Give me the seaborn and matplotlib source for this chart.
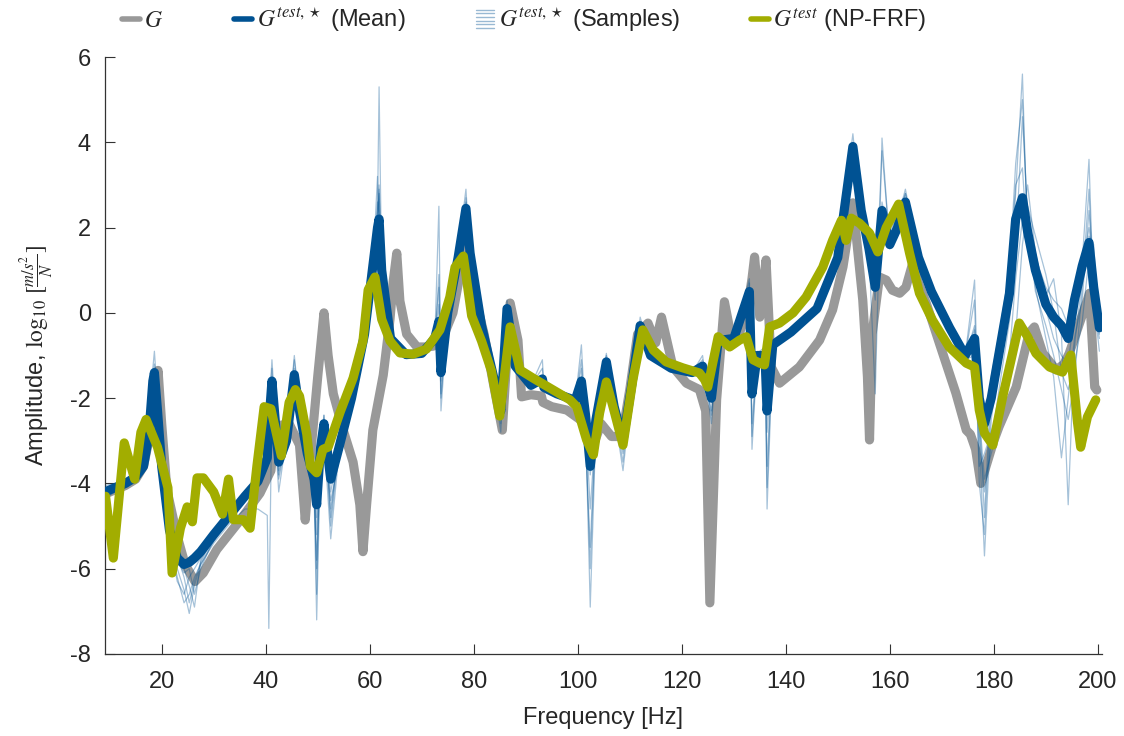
import matplotlib
matplotlib.use("Agg")
import numpy as np
import pandas as pd
import matplotlib.pyplot as plt
import seaborn as sns
from matplotlib.lines import Line2D
from matplotlib.legend_handler import HandlerBase

# ---------------- data ----------------
freq_G = [9.1, 11, 13, 15, 16.5, 17.5, 18.5, 19.3, 20, 21, 22.9, 24.5, 26.4, 28, 30.6, 35.1, 38.9, 41.0,
          41.6, 42.3, 44.5, 46.5, 47.6, 48.5, 50, 51.2, 52, 53, 54.9, 56.8, 58.1, 58.7, 59.4, 60.6, 62.6,
          63.9, 64.5, 65.2, 65.8, 67.1, 69.1, 71, 72.2, 74, 76, 77.5, 78.6, 80, 82, 84, 85.5, 87, 88.5,
          89.2, 91, 93, 93.3, 95, 97.9, 100.4, 102, 103.3, 104.5, 106.5, 108.5, 110, 111.5, 113.5, 115,
          116.1, 118.3, 120.9, 123.4, 124.6, 125.4, 126.7, 128.2, 129.5, 131, 132.5, 133.5, 134, 135,
          136.2, 137.2, 138.8, 142.6, 146.5, 149, 151, 152.9, 154.8, 155.7, 156.1, 156.6, 158, 159.3,
          160.5, 161.9, 163.1, 164.4, 165.5, 167, 169.5, 172.7, 174.7, 175.5, 176.5, 177.5, 178.5, 180,
          181, 184.3, 186.8, 187.8, 189.4, 192, 193.5, 194.5, 197.8, 198.4, 199.4, 199.8]
amp_G = [-4.25, -4.15, -4.05, -3.9, -3.6, -3.0, -2.1, -1.35, -2.6, -4.15, -5.2, -5.9, -6.3, -6.1, -5.55,
         -4.86, -4.23, -3.7, -3.0, -2.65, -2.6, -3.1, -4.86, -3.5, -1.5, 0.0, -1.0, -1.9, -2.75, -3.5,
         -4.5, -5.6, -4.5, -2.75, -1.46, -0.15, 0.72, 1.4, 0.28, -0.5, -0.8, -0.8, -0.78, -0.6, 0.0, 1.0,
         2.0, 0.5, -0.5, -1.8, -2.75, 0.23, -0.64, -1.97, -1.92, -1.95, -2.1, -2.2, -2.28, -2.5, -2.7,
         -3.0, -2.6, -2.9, -2.9, -1.8, -0.5, -0.24, -0.7, -0.1, -1.27, -1.65, -1.8, -2.3, -6.8, -2.04,
         0.26, -0.56, -0.5, 0.0, 0.8, 1.31, -0.1, 1.24, -1.27, -1.65, -1.27, -0.64, 0.07, 1.08, 2.58,
         0.3, -1.5, -2.98, -0.5, 0.84, 0.77, 0.53, 0.46, 0.6, 1.16, 0.7, 0.23, -0.7, -1.88, -2.75,
         -2.85, -3.2, -4.0, -3.6, -3.0, -2.67, -1.74, -0.47, -0.33, -0.94, -1.34, -1.2, -0.95, 0.23,
         0.46, -1.74, -1.81]

freq_mean = [9.1, 11, 13, 15, 16.5, 17.5, 18.3, 18.6, 19.2, 20, 21.5, 23, 24.3, 25.3, 26.3, 27.5, 30,
             33, 36, 38.5, 40.3, 40.6, 41.2, 42.5, 44, 45.5, 46.5, 48, 49.3, 49.8, 50.5, 51.2, 52.5, 54,
             56.5, 59, 60.5, 61.5, 61.8, 62.3, 64, 67, 70, 72.5, 73.3, 73.7, 75, 77, 78.5, 79.3, 81.5,
             84, 85.2, 86.4, 88, 91, 93.2, 93.5, 96, 99.5, 100.7, 101.5, 102.4, 103.5, 105.5, 107,
             108.7, 110.5, 112, 114, 118, 122, 124, 125.7, 127, 130, 133, 133.5, 134.5, 136, 136.4,
             137.5, 141, 146, 150, 152.9, 154.5, 156, 157.2, 158.5, 160, 161.5, 163, 165.5, 168,
             171.5, 174.5, 176.3, 177.2, 178.2, 179.5, 181, 183, 184.2, 185.5, 186.5, 188, 190, 191.5,
             193, 194.3, 195.5, 197, 198.3, 199.2, 200.3]
amp_mean = [-4.2, -4.1, -4.0, -3.85, -3.6, -2.9, -1.6, -1.4, -2.3, -3.6, -5.1, -5.75, -5.9, -5.85,
            -5.75, -5.6, -5.2, -4.75, -4.3, -3.95, -3.4, -2.6, -1.6, -3.5, -3.0, -1.45, -2.3, -3.3,
            -3.9, -4.5, -3.2, -2.6, -3.9, -3.2, -2.0, -0.5, 1.0, 2.0, 2.2, 1.0, -0.6, -0.98, -0.95,
            -0.6, -0.2, -1.4, 0.0, 1.3, 2.45, 1.4, -0.3, -1.6, -2.3, 0.1, -1.25, -1.7, -1.55, -1.75,
            -1.9, -2.05, -1.6, -2.4, -3.6, -2.5, -1.15, -2.2, -3.0, -1.6, -0.3, -1.0, -1.3, -1.4,
            -1.25, -2.0, -0.65, -0.6, 0.5, -1.9, -1.0, -1.0, -2.3, -0.75, -0.45, 0.1, 1.3, 3.9, 2.4,
            1.5, 0.6, 2.4, 1.6, 2.0, 2.6, 1.3, 0.5, -0.35, -1.0, -0.6, -2.0, -2.6, -2.0, -0.95, 0.45,
            2.2, 2.7, 1.9, 1.0, 0.2, -0.1, -0.3, -0.6, 0.3, 1.1, 1.65, 0.6, -0.35]

# posterior samples (same frequency grid as the mean)
amp_sample_1 = [-4.1, -4.05, -3.95, -3.8, -3.5, -2.7, -1.3, -0.9, -2.0, -3.5, -5.2, -6.0, -6.5, -7.05,
                -6.4, -5.9, -5.35, -4.85, -4.35, -4.0, -3.5, -2.4, -1.1, -3.7, -3.1, -1.0, -2.2, -3.4,
                -4.2, -7.2, -3.5, -2.4, -4.6, -3.3, -2.05, -0.55, 1.1, 2.4, 5.3, 0.9, -0.65, -1.0,
                -0.95, -0.55, 0.6, -2.3, 0.05, 1.4, 2.9, 1.3, -0.35, -1.7, -2.8, 0.3, -1.3, -1.7,
                -1.1, -1.8, -1.95, -2.1, -0.75, -2.6, -6.9, -2.6, -0.95, -2.3, -3.7, -1.65, -0.1,
                -1.0, -1.3, -1.4, -1.0, -2.6, -0.6, -0.6, 0.8, -3.2, -1.0, -0.9, -4.6, -0.8, -0.5,
                0.05, 1.35, 4.2, 2.3, 1.4, -1.9, 4.1, 1.5, 2.2, 2.9, 1.3, 0.5, -0.3, -1.0, 0.77,
                -3.0, -5.7, -2.5, -1.2, 0.6, 2.8, 5.6, 1.6, 0.8, 0.1, -0.6, -1.0, -1.2, 0.0, 1.2,
                3.6, 0.2, -0.6]
amp_sample_2 = [-4.3, -4.15, -4.05, -3.9, -3.7, -3.1, -1.9, -1.7, -2.6, -3.8, -5.3, -6.2, -6.8, -6.6,
                -6.2, -5.9, -5.4, -4.95, -4.6, -4.6, -4.75, -7.4, -2.0, -3.6, -3.1, -1.8, -2.5, -3.5,
                -4.0, -5.2, -3.3, -2.9, -5.3, -3.4, -2.1, -0.6, 0.8, 3.2, 2.0, 0.8, -0.7, -1.05, -1.0,
                -0.7, 2.5, -1.6, -0.1, 1.2, 2.2, 1.5, -0.3, -1.6, -2.5, 0.0, -1.2, -1.7, -1.5, -1.8,
                -1.9, -2.0, -1.3, -3.0, -5.5, -2.4, -1.2, -2.2, -3.3, -1.6, -0.3, -1.0, -1.3, -1.45,
                -1.3, -2.3, -0.7, -0.6, 0.3, -2.6, -1.0, -1.1, -3.6, -0.7, -0.45, 0.15, 1.25, 3.7,
                2.5, 1.6, 0.5, 2.6, 1.7, 2.4, 2.5, 1.3, 0.5, -0.4, -1.05, -0.3, -2.8, -4.2, -3.1,
                -1.8, -0.2, 1.5, 4.6, 2.3, 0.6, -0.6, -1.5, -3.4, -2.0, -0.6, 0.3, 2.4, 0.9, -0.2]
amp_sample_3 = [-4.05, -4.0, -3.9, -3.75, -3.45, -2.8, -1.5, -1.4, -2.4, -3.7, -5.15, -5.8, -6.1, -6.0,
                -6.6, -6.0, -5.3, -4.8, -4.3, -3.9, -3.3, -2.5, -1.5, -4.2, -2.9, -1.3, -2.4, -3.2,
                -3.8, -6.0, -3.0, -2.5, -4.8, -3.1, -1.9, -0.45, 1.0, 2.1, 3.0, 1.1, -0.55, -0.95,
                -0.9, -0.55, -0.1, -1.9, 0.05, 1.4, 2.6, 1.5, -0.25, -1.5, -2.2, 0.2, -1.2, -1.65,
                -1.5, -1.7, -1.85, -2.0, -1.5, -2.5, -4.6, -2.6, -1.1, -2.1, -3.2, -1.5, -0.25,
                -0.95, -1.25, -1.35, -1.2, -2.1, -0.6, -0.55, 0.6, -2.0, -0.95, -0.8, -2.8, -0.7,
                -0.4, 0.15, 1.4, 3.6, 2.5, 1.6, 0.7, 2.5, 1.8, 2.1, 2.8, 1.4, 0.55, -0.3, -0.95,
                -0.4, -2.3, -4.8, -1.5, -0.5, 1.0, 3.0, 3.4, 1.5, 1.3, 0.6, 0.3, 0.1, -0.3, 0.5, 1.0,
                2.0, 1.2, 0.2]
amp_sample_4 = [-4.2, -4.1, -4.0, -3.85, -3.6, -2.95, -1.7, -1.5, -2.3, -3.6, -5.0, -5.6, -6.0, -6.4,
                -6.9, -5.8, -5.2, -4.7, -4.25, -3.95, -3.4, -2.7, -1.7, -3.9, -3.0, -1.5, -2.3, -3.3,
                -3.8, -4.8, -3.2, -2.7, -4.2, -3.2, -2.0, -0.5, 0.9, 2.6, 2.3, 1.0, -0.6, -1.0, -0.95,
                -0.65, -0.3, -1.4, 0.0, 1.3, 2.3, 1.45, -0.3, -1.6, -2.3, 0.05, -1.25, -1.7, -1.55,
                -1.75, -1.9, -2.05, -1.6, -2.3, -3.8, -2.4, -1.15, -2.2, -3.0, -1.6, -0.3, -1.0, -1.3,
                -1.4, -1.25, -2.0, -0.65, -0.6, 0.4, -1.8, -1.0, -1.0, -2.3, -0.75, -0.45, 0.1, 1.3,
                3.9, 2.4, 1.5, 0.6, 2.4, 1.6, 2.0, 2.6, 1.3, 0.5, -0.35, -1.0, -0.8, -3.6, -3.3, -2.8,
                -2.2, -1.0, 0.8, 2.2, 3.0, 1.4, 0.4, 0.8, -0.5, -4.5, -0.8, 0.8, 1.8, 1.6, -0.5]
amp_sample_5 = [-4.35, -4.2, -4.1, -3.95, -3.75, -3.2, -2.1, -1.9, -2.7, -3.9, -5.4, -6.3, -6.6, -6.2,
                -6.0, -5.75, -5.3, -4.8, -4.4, -4.05, -3.6, -3.0, -2.0, -3.4, -3.2, -1.9, -2.6, -3.6,
                -4.3, -5.8, -3.6, -3.0, -4.4, -3.5, -2.2, -0.7, 0.7, 1.8, 2.9, 0.7, -0.8, -1.05, -1.0,
                -0.75, 0.9, -1.0, -0.1, 1.1, 2.0, 1.6, -0.2, -1.5, -2.2, -0.2, -1.3, -1.75, -1.6,
                -1.8, -1.95, -2.1, -1.7, -2.2, -3.3, -2.5, -1.3, -2.3, -2.9, -1.7, -0.4, -1.05,
                -1.35, -1.45, -1.3, -1.9, -0.7, -0.65, 0.2, -1.7, -1.05, -1.2, -2.0, -0.8, -0.5,
                0.05, 1.2, 3.5, 2.6, 1.7, 0.8, 2.2, 1.9, 2.3, 2.4, 1.25, 0.45, -0.4, -1.1, -1.0,
                -2.4, -3.9, -3.3, -2.6, -1.5, -0.5, 1.6, 2.5, 1.8, 0.9, 0.0, -1.4, -1.8, -1.2, -0.2,
                1.3, 0.3, -0.9]
amp_sample_6 = [-4.15, -4.05, -3.95, -3.8, -3.55, -2.85, -1.55, -1.2, -2.2, -3.55, -5.05, -5.7, -6.2,
                -6.8, -6.3, -5.85, -5.25, -4.7, -4.25, -3.9, -3.3, -2.3, -1.3, -3.8, -2.9, -1.1, -2.2,
                -3.2, -3.7, -6.6, -3.1, -2.4, -5.0, -3.2, -1.95, -0.45, 1.05, 2.3, 2.8, 1.05, -0.6,
                -0.98, -0.92, -0.6, 0.2, -2.0, 0.0, 1.35, 2.7, 1.4, -0.3, -1.65, -2.6, 0.15, -1.25,
                -1.7, -1.3, -1.75, -1.9, -2.05, -1.1, -2.8, -6.0, -2.5, -1.0, -2.25, -3.5, -1.55,
                -0.2, -1.0, -1.3, -1.4, -1.1, -2.4, -0.6, -0.6, 0.7, -2.9, -1.0, -0.95, -4.1, -0.75,
                -0.45, 0.1, 1.3, 4.0, 2.3, 1.5, 0.3, 3.8, 1.6, 2.2, 2.8, 1.3, 0.5, -0.35, -1.0, 0.3,
                -4.0, -5.2, -2.0, -0.8, 0.9, 3.5, 5.0, 2.0, 0.5, -0.3, -1.0, -1.8, -2.5, -1.6, 0.6,
                2.9, 0.4, -0.4]

freq_npfrf = [9.2, 10.7, 12.8, 14.8, 16.0, 17.0, 19.2, 21.2, 22.0, 23.6, 24.9, 25.9, 26.8, 28.0, 30.0,
              31.7, 32.85, 33.8, 35.7, 37.0, 38.3, 39.7, 41.0, 43.0, 44.5, 45.7, 46.5, 47.9, 48.6,
              49.8, 51.0, 52.0, 54.3, 56.8, 58.7, 59.7, 61.0, 62.3, 63.9, 65.8, 68.3, 70.9, 73.5,
              75.4, 76.4, 78.0, 79.6, 81.5, 83.4, 85.0, 87.0, 88.9, 91.4, 94.6, 98.5, 99.8, 101.7,
              103.0, 104.2, 105.5, 107.1, 108.7, 110.6, 112.5, 114.5, 117.0, 120.2, 123.4, 124.4,
              125.0, 127.0, 129.2, 131.1, 132.4, 133.7, 135.0, 135.9, 136.9, 138.8, 141.4, 143.9,
              147.1, 149.0, 150.7, 151.6, 152.6, 154.2, 156.1, 157.7, 159.3, 161.7, 163.8, 165.7,
              168.2, 171.4, 174.7, 176.3, 177.2, 178.2, 179.8, 181.7, 183.6, 184.9, 186.5, 188.1,
              190.7, 193.2, 194.8, 196.1, 196.7, 198.0, 199.6]
amp_npfrf = [-4.3, -5.75, -3.05, -3.9, -2.8, -2.5, -3.15, -4.1, -6.1, -5.05, -4.55, -4.9, -3.87, -3.87,
             -4.2, -4.72, -3.9, -4.85, -4.85, -5.05, -3.6, -2.2, -2.25, -3.35, -2.1, -1.8, -1.95,
             -2.85, -3.6, -3.75, -3.2, -3.15, -2.33, -1.53, -0.66, 0.54, 0.84, -0.15, -0.66, -0.94,
             -0.97, -0.85, -0.4, 0.37, 1.07, 1.33, -0.07, -0.66, -1.36, -2.42, -0.33, -1.34, -1.53,
             -1.76, -2.04, -2.2, -2.98, -3.33, -2.35, -1.62, -2.35, -3.1, -1.57, -0.4, -0.87, -1.15,
             -1.29, -1.41, -1.57, -1.74, -0.56, -0.8, -0.64, -0.56, -1.1, -1.18, -1.22, -0.33,
             -0.24, 0.0, 0.37, 1.07, 1.7, 2.17, 1.7, 2.22, 2.1, 1.87, 1.43, 2.0, 2.55, 1.4, 0.46,
             -0.17, -0.8, -1.18, -1.27, -2.28, -2.82, -3.1, -1.97, -0.95, -0.24, -0.56, -0.95,
             -1.27, -1.39, -0.99, -2.58, -3.15, -2.44, -2.04]

x_ticks = [20, 40, 60, 80, 100, 120, 140, 160, 180, 200]
y_ticks = [-8, -6, -4, -2, 0, 2, 4, 6]
legend_labels = [r"$G$", r"$G^{test,\star}$ (Mean)", r"$G^{test,\star}$ (Samples)",
                 r"$G^{test}$ (NP-FRF)"]

# ---------------- style ----------------
GRAY = "#999999"
BLUE = "#005293"
OLIVE = "#A2AD00"

sns.set_theme(style="ticks")
plt.rcParams["font.family"] = ["Liberation Sans", "DejaVu Sans"]
plt.rcParams["mathtext.fontset"] = "stix"
plt.rcParams["axes.unicode_minus"] = False

fig = plt.figure(figsize=(11.24, 7.36), dpi=100)
ax = fig.add_axes([105 / 1124, 1 - 654 / 736, (1102 - 105) / 1124, (654 - 57) / 736])

df_G = pd.DataFrame({"f": freq_G, "v": amp_G})
df_mean = pd.DataFrame({"f": freq_mean, "v": amp_mean})
df_np = pd.DataFrame({"f": freq_npfrf, "v": amp_npfrf})
samples = [amp_sample_1, amp_sample_2, amp_sample_3, amp_sample_4, amp_sample_5, amp_sample_6]
df_s = pd.concat([pd.DataFrame({"f": freq_mean, "v": s, "sample": i}) for i, s in enumerate(samples)])

lw = 6.6
sns.lineplot(data=df_G, x="f", y="v", ax=ax, color=GRAY, linewidth=lw, sort=False, estimator=None,
             solid_capstyle="round", solid_joinstyle="round", zorder=2, legend=False)
sns.lineplot(data=df_s, x="f", y="v", units="sample", estimator=None, ax=ax, color=BLUE, alpha=0.35,
             linewidth=0.9, sort=False, zorder=3, legend=False)
sns.lineplot(data=df_mean, x="f", y="v", ax=ax, color=BLUE, linewidth=lw, sort=False, estimator=None,
             solid_capstyle="round", solid_joinstyle="round", zorder=4, legend=False)
sns.lineplot(data=df_np, x="f", y="v", ax=ax, color=OLIVE, linewidth=lw, sort=False, estimator=None,
             solid_capstyle="round", solid_joinstyle="round", zorder=5, legend=False)

ax.set_xlim(9.1, 200.8)
ax.set_ylim(-8, 6)
ax.set_xticks(x_ticks)
ax.set_yticks(y_ticks)
ax.set_xticklabels([str(t) for t in x_ticks])
ax.set_yticklabels([str(t) for t in y_ticks])
sns.despine(ax=ax)
for s in ["left", "bottom"]:
    ax.spines[s].set_color("#333333")
    ax.spines[s].set_linewidth(0.9)
ax.tick_params(axis="both", direction="in", length=7, width=0.8, colors="#333333",
               labelcolor="#262626", labelsize=17)
ax.tick_params(axis="x", pad=12)
ax.tick_params(axis="y", pad=10)
ax.set_xlabel("Frequency [Hz]", fontsize=17, color="#262626", labelpad=10)
ax.set_ylabel(r"Amplitude, $\log_{10}\,[\frac{m/s^2}{N}]$", fontsize=17, color="#262626",
              labelpad=10)
ax.grid(False)


class StripeHandler(HandlerBase):
    def create_artists(self, legend, orig_handle, xdescent, ydescent, width, height, fontsize, trans):
        arts = []
        n = 6
        for i in range(n):
            yy = -ydescent - 0.15 * height + 1.3 * height * (i + 0.5) / n
            arts.append(Line2D([-xdescent, -xdescent + width], [yy, yy], color=BLUE, alpha=0.4,
                               linewidth=1.0, transform=trans))
        return arts


h_G = Line2D([], [], color=GRAY, linewidth=4)
h_mean = Line2D([], [], color=BLUE, linewidth=4)
h_samp = Line2D([], [], color=BLUE, linewidth=1)
h_np = Line2D([], [], color=OLIVE, linewidth=4)
fig.legend([h_G, h_mean, h_samp, h_np], legend_labels, loc="center left",
           bbox_to_anchor=(122 / 1124, 1 - 20 / 736), ncol=4, frameon=False, borderpad=0,
           borderaxespad=0, handlelength=0.75, handletextpad=0.2, columnspacing=3.0, fontsize=17,
           handler_map={h_samp: StripeHandler()}, labelcolor="#262626")

fig.savefig("out.png", dpi=100)
